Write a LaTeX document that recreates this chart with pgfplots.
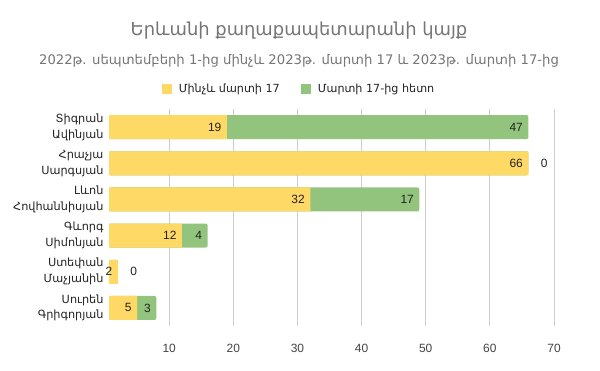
\documentclass[border=0pt]{standalone}
\usepackage{fontspec}
\setmainfont{Liberation Sans}
\newfontfamily\arm{DejaVu Sans}[Scale=0.92]
\usepackage{pgfplots}
\pgfplotsset{compat=1.18}
\usepackage{pgfplotstable}
\definecolor{cyel}{HTML}{FFD966}
\definecolor{cgrn}{HTML}{93C47D}
\definecolor{ctitle}{HTML}{757575}
\definecolor{cgrid}{HTML}{CCCCCC}
\definecolor{ctext}{HTML}{222222}
\definecolor{ctick}{HTML}{444444}

% y: category index, a: before March 17, b: after March 17, tot: a+b
\pgfplotstableread{
y a b tot
0 19 47 66
1 66 0 66
2 32 17 49
3 12 4 16
4 2 0 2
5 5 3 8
}\datatab
\pgfplotstableread{
y tot b
0 66 47
2 49 17
3 16 4
5 8 3
}\greenlab
\pgfplotstableread{
y a b
1 66 0
4 2 0
}\zerolab

\begin{document}
\begin{tikzpicture}
\path[use as bounding box] (0bp,0bp) rectangle (600bp,371bp);
\node[font=\arm\fontsize{19.5}{22}\selectfont, text=ctitle] at (299bp,340bp) {Երևանի քաղաքապետարանի կայք};
\node[font=\arm\fontsize{14.4}{17}\selectfont, text=ctitle] at (299bp,310bp) {2022թ. սեպտեմբերի 1-ից մինչև 2023թ. մարտի 17 և 2023թ. մարտի 17-ից};
\begin{axis}[at={(109bp,45bp)}, anchor=south west, scale only axis,
  width=445bp, height=217bp,
  xmin=0.62, xmax=70, ymin=-0.5, ymax=5.5, y dir=reverse,
  xbar, bar width=24bp, bar shift=0pt,
  axis line style={draw=none}, major tick length=0pt,
  xtick={10,20,...,70}, xmajorgrids, grid style={cgrid, line width=0.8bp},
  ytick={0,...,5},
  yticklabels={{Տիգրան\\Ավինյան},{Հրաչյա\\Սարգսյան},{Լևոն\\Հովհաննիսյան},{Գևորգ\\Սիմոնյան},{Ստեփան\\Մաչյանին},{Սուրեն\\Գրիգորյան}},
  yticklabel style={align=right, font=\arm\fontsize{12.3}{16}\selectfont, text=ctext, xshift=-2bp},
  xticklabel style={font=\fontsize{12}{14}\selectfont, text=ctick, yshift=-15bp},
  /pgf/number format/assume math mode=true,
  legend columns=2,
  legend style={draw=none, fill=none, at={(0.427,1.092)}, anchor=center,
    font=\arm\fontsize{12.2}{14}\selectfont, text=ctext,
    /tikz/every even column/.append style={column sep=19bp}},
  legend cell align=left,
  legend image code/.code={\fill[#1] (0bp,-5bp) rectangle (10bp,5bp); \path (15bp,0bp);},
]
\addlegendimage{fill=cyel, draw=none}
\addlegendentry{Մինչև մարտի 17}
\addlegendimage{fill=cgrn, draw=none}
\addlegendentry{Մարտի 17-ից հետո}
% green total bars
\addplot[forget plot, fill=cgrn, draw=none, rounded corners=2bp] table[x=tot, y=y] {\datatab};
% yellow bars
\addplot[forget plot, fill=cyel, draw=none] table[x=a, y=y] {\datatab};
% yellow labels
\addplot[forget plot, draw=none, fill=none, nodes near coords, point meta=x,
  nodes near coords style={anchor=east, xshift=-2bp, font=\fontsize{12}{14}\selectfont, text=ctext},
  /pgf/number format/assume math mode=true] table[x=a, y=y] {\datatab};
% green labels
\addplot[forget plot, draw=none, fill=none, nodes near coords, point meta=explicit,
  nodes near coords style={anchor=east, xshift=-2bp, font=\fontsize{12}{14}\selectfont, text=ctext},
  /pgf/number format/assume math mode=true] table[x=tot, y=y, meta=b] {\greenlab};
% zero labels
\addplot[forget plot, draw=none, fill=none, nodes near coords, point meta=explicit,
  nodes near coords style={anchor=west, xshift=9bp, font=\fontsize{12}{14}\selectfont, text=ctext},
  /pgf/number format/assume math mode=true] table[x=a, y=y, meta=b] {\zerolab};
\end{axis}
\end{tikzpicture}
\end{document}
